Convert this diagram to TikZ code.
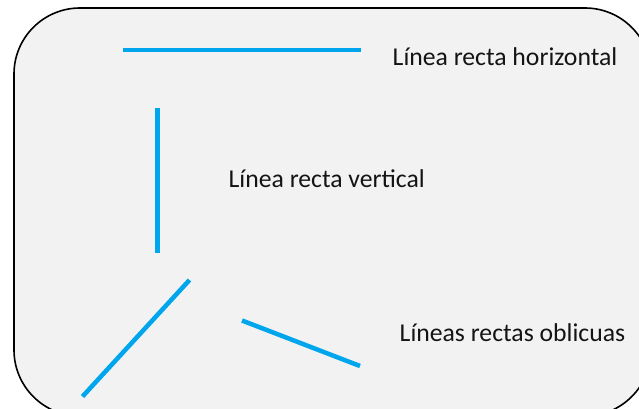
\documentclass[tikz,border=0pt]{standalone}
\usepackage{fontspec}
\setmainfont{Carlito}
\definecolor{linecol}{RGB}{0,166,237}
\definecolor{boxfill}{RGB}{242,242,242}
\definecolor{txtcol}{RGB}{20,20,20}
\begin{document}
\begin{tikzpicture}[x=1pt,y=-1pt,
  seg/.style={draw=linecol,line width=4.5pt},
  lbl/.style={anchor=base west,inner sep=0pt,font=\fontsize{25.7}{30}\selectfont,text=txtcol}]
\useasboundingbox (0,0) rectangle (639,409);
\fill[white] (0,0) rectangle (639,409);
\begin{scope}
\clip (0,0) rectangle (639,409);
\draw[fill=boxfill,draw=black,line width=1.6pt,rounded corners=66pt] (14,8) rectangle (651,416);
\end{scope}
\coordinate (h1) at (123,50);
\coordinate (h2) at (361,50);
\coordinate (v1) at (157.5,108);
\coordinate (v2) at (157.5,253);
\coordinate (o1a) at (82.5,396.5);
\coordinate (o1b) at (189.5,280);
\coordinate (o2a) at (242,320.5);
\coordinate (o2b) at (360,366);
\draw[seg] (h1) -- (h2);
\draw[seg] (v1) -- (v2);
\draw[seg] (o1a) -- (o1b);
\draw[seg] (o2a) -- (o2b);
\node[lbl] (th) at (392.5,66) {Línea recta horizontal};
\node[lbl] (tv) at (228.5,187) {Línea recta vertical};
\node[lbl] (to) at (399.5,341) {Líneas rectas oblicuas};
\end{tikzpicture}
\end{document}
